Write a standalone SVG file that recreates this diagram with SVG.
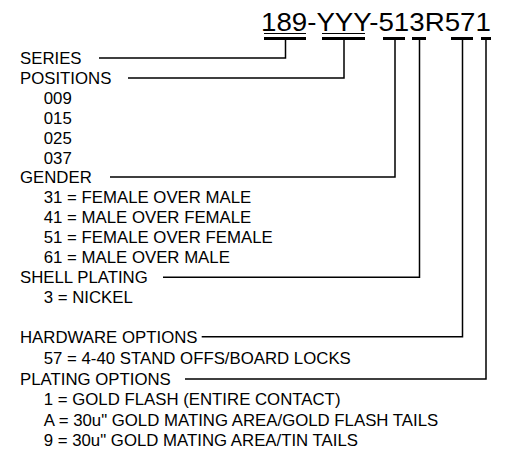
<svg xmlns="http://www.w3.org/2000/svg" width="508" height="458" viewBox="0 0 508 458">
<style>
.t{font-family:"Liberation Sans",Arial,sans-serif;font-size:16px;fill:#000}
.title{font-family:"Liberation Sans",Arial,sans-serif;font-size:26.5px;fill:#000}
.c{fill:none;stroke:#000;stroke-width:1.5}
.bar{stroke:#000;stroke-width:3}
.ul{stroke:#000;stroke-width:1}
</style>
<rect width="508" height="458" fill="#fff"/>
<g id="part-number">
<text class="title" transform="translate(261,31) scale(1.045,1)" x="0" y="0">189-YYY-513R571</text>
<line class="ul" x1="264" y1="33.5" x2="306" y2="33.5"/>
<line class="ul" x1="322" y1="33.5" x2="365" y2="33.5"/>
<line class="bar" x1="264" y1="38.5" x2="306" y2="38.5"/>
<line class="bar" x1="322" y1="38.5" x2="365" y2="38.5"/>
<line class="bar" x1="383" y1="38.5" x2="405" y2="38.5"/>
<line class="bar" x1="412" y1="38.5" x2="426" y2="38.5"/>
<line class="bar" x1="451" y1="38.5" x2="473" y2="38.5"/>
<line class="bar" x1="481" y1="38.5" x2="491" y2="38.5"/>
</g>
<g transform="translate(20,0) scale(1.05,1)">
<g id="series"><text class="t" x="0" y="64">SERIES</text></g>
<g id="positions">
<text class="t" x="0" y="84">POSITIONS</text>
<text class="t" x="22.6" y="104">009</text>
<text class="t" x="22.6" y="124">015</text>
<text class="t" x="22.6" y="144">025</text>
<text class="t" x="22.6" y="164">037</text>
</g>
<g id="gender">
<text class="t" x="0" y="183.5">GENDER</text>
<text class="t" x="22.6" y="203.5">31 = FEMALE OVER MALE</text>
<text class="t" x="22.6" y="223.5">41 = MALE OVER FEMALE</text>
<text class="t" x="22.6" y="243.5">51 = FEMALE OVER FEMALE</text>
<text class="t" x="22.6" y="263.5">61 = MALE OVER MALE</text>
</g>
<g id="shell-plating">
<text class="t" x="0" y="283.5">SHELL PLATING</text>
<text class="t" x="22.6" y="303.5">3 = NICKEL</text>
</g>
<g id="hardware-options">
<text class="t" x="0" y="343.5">HARDWARE OPTIONS</text>
<text class="t" x="22.6" y="364.5">57 = 4-40 STAND OFFS/BOARD LOCKS</text>
</g>
<g id="plating-options">
<text class="t" x="0" y="385">PLATING OPTIONS</text>
<text class="t" x="22.6" y="405.5">1 = GOLD FLASH (ENTIRE CONTACT)</text>
<text class="t" x="22.6" y="426.5">A = 30u" GOLD MATING AREA/GOLD FLASH TAILS</text>
<text class="t" x="22.6" y="446.5">9 = 30u" GOLD MATING AREA/TIN TAILS</text>
</g>
</g>
<g id="connectors">
<polyline class="c" points="99,58 285.5,58 285.5,40"/>
<polyline class="c" points="128,78 344,78 344,40"/>
<polyline class="c" points="110,177 395,177 395,40"/>
<polyline class="c" points="163,277.3 419.5,277.3 419.5,40"/>
<polyline class="c" points="201.7,336.7 462.5,336.7 462.5,40"/>
<polyline class="c" points="185,379 486,379 486,40"/>
</g>
</svg>
